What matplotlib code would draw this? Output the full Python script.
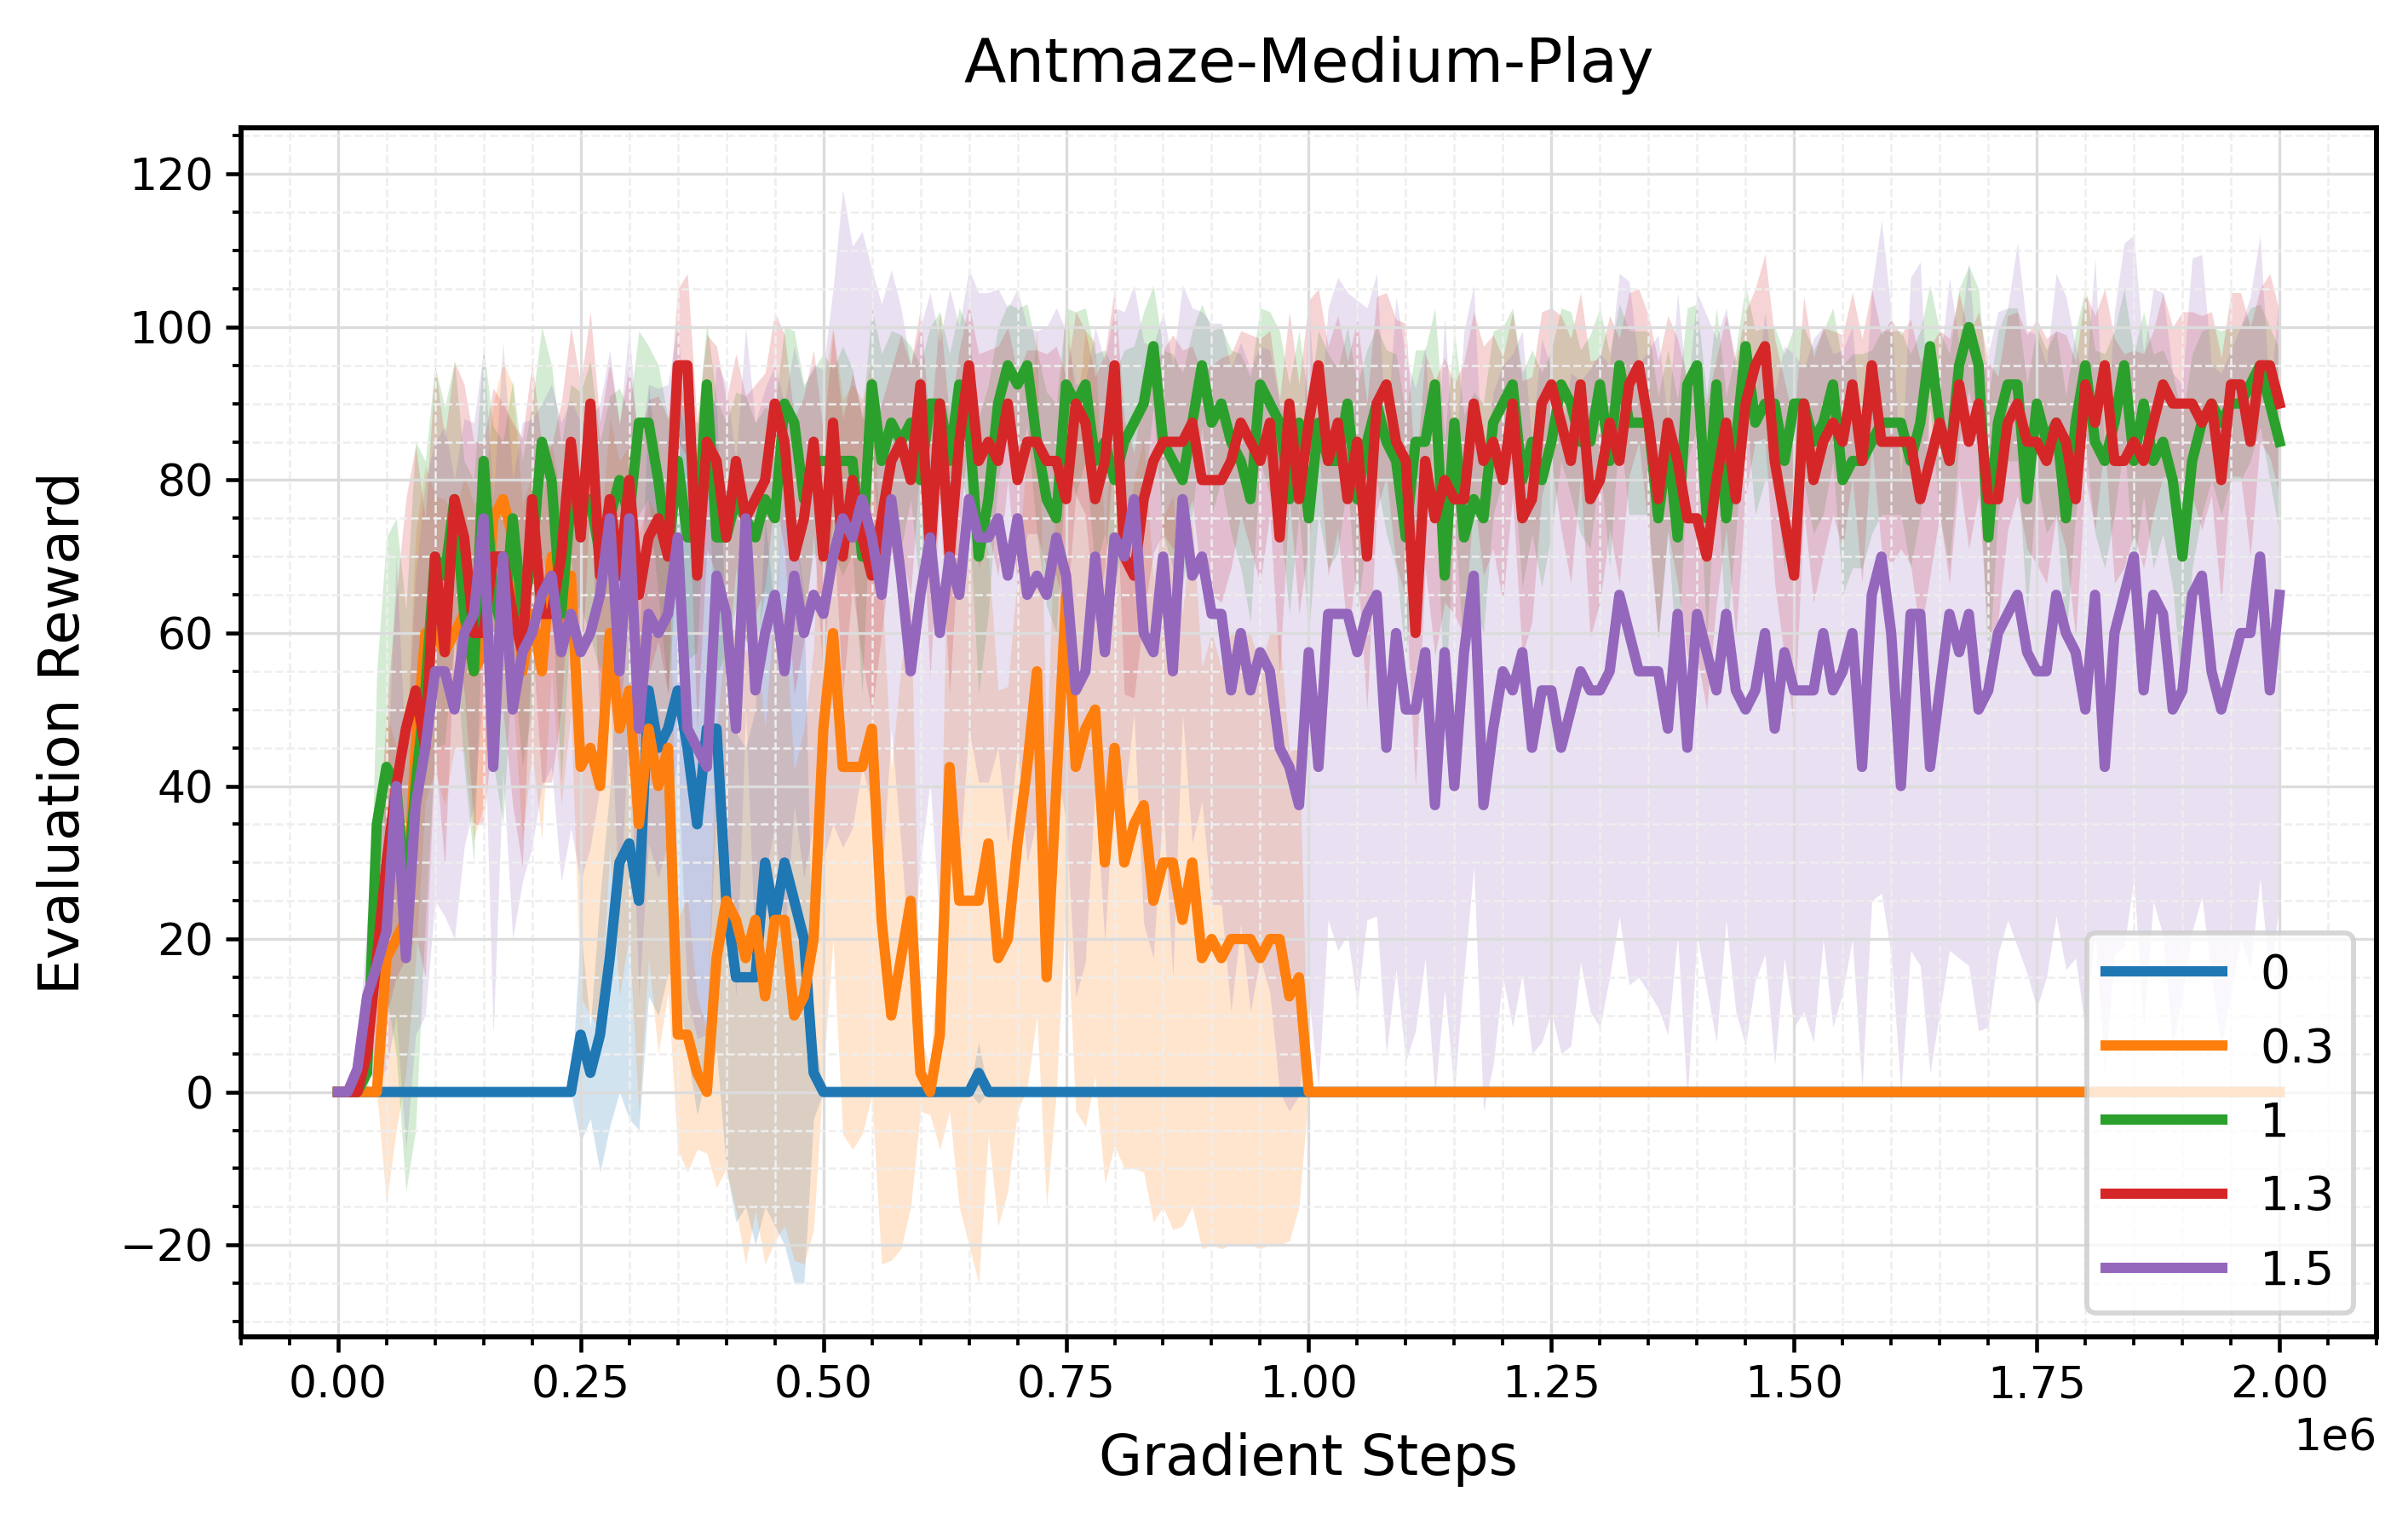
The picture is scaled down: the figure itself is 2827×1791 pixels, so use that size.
import numpy as np
import matplotlib
matplotlib.use("Agg")
import matplotlib.pyplot as plt

# evaluation every 10k gradient steps, 0 .. 2e6
steps = np.arange(0, 2000001, 10000)

labels = ["0", "0.3", "1", "1.3", "1.5"]
colors = ["#1f77b4", "#ff7f0e", "#2ca02c", "#d62728", "#9467bd"]

mean_0 = ([0] * 25 +
          [7.5, 2.5, 7.5, 17.5, 30, 32.5, 25, 52.5, 45, 47.5,
           52.5, 45, 35, 47.5, 47.5, 25, 15, 15, 15, 30,
           22.5, 30, 25, 20, 2.5] +
          [0] * 16 + [2.5] + [0] * 134)
std_0 = ([0] * 25 +
         [14, 6, 18, 22, 30, 36, 30, 40, 35, 32,
          38, 40, 38, 45, 42, 35, 32, 30, 35, 45,
          40, 50, 50, 45, 6] +
         [0] * 16 + [4] + [0] * 134)

mean_03 = ([0, 0, 0, 0, 0, 17.5, 20, 22.5, 45, 60,
            60, 57.5, 60, 62.5, 55, 57.5, 75, 77.5, 72.5, 55,
            62.5, 55, 70, 57.5, 67.5, 42.5, 45, 40, 60, 47.5,
            52.5, 35, 47.5, 40, 45, 7.5, 7.5, 2.5, 0, 17.5,
            25, 22.5, 17.5, 22.5, 12.5, 22.5, 22.5, 10, 12.5, 20,
            47.5, 60, 42.5, 42.5, 42.5, 47.5, 22.5, 10, 17.5, 25,
            2.5, 0, 7.5, 42.5, 25, 25, 25, 32.5, 17.5, 20,
            32.5, 42.5, 55, 15, 40, 65, 42.5, 47.5, 50, 30,
            45, 30, 35, 37.5, 25, 30, 30, 22.5, 30, 17.5,
            20, 17.5, 20, 20, 20, 17.5, 20, 20, 12.5, 15] +
           [0] * 101)
std_03 = ([0, 0, 0, 0, 0, 32, 25, 20, 28, 22,
           18, 20, 15, 18, 22, 20, 15, 18, 20, 22,
           18, 22, 15, 20, 18, 30, 35, 32, 28, 35,
           32, 38, 30, 35, 32, 15, 18, 10, 8, 30,
           35, 38, 40, 38, 35, 42, 40, 32, 35, 38,
           45, 40, 48, 50, 48, 48, 45, 32, 38, 40,
           5, 3, 15, 45, 40, 45, 50, 38, 35, 33,
           35, 42, 45, 30, 40, 40, 45, 52, 48, 42,
           52, 40, 45, 48, 42, 45, 48, 40, 45, 38,
           40, 38, 40, 40, 40, 38, 40, 40, 32, 30] +
          [0] * 101)

mean_1 = [0, 0, 0, 2.5, 35, 42.5, 40, 25, 40, 52.5,
          70, 67.5, 77.5, 62.5, 55, 82.5, 65, 60, 75, 62.5,
          70, 85, 80, 62.5, 77.5, 77.5, 77.5, 70, 75, 80,
          75, 87.5, 87.5, 80, 70, 82.5, 72.5, 72.5, 92.5, 72.5,
          72.5, 77.5, 75, 72.5, 77.5, 75, 90, 87.5, 77.5, 82.5,
          82.5, 82.5, 82.5, 82.5, 70, 92.5, 82.5, 87.5, 85, 87.5,
          80, 90, 90, 82.5, 92.5, 87.5, 70, 77.5, 90, 95,
          92.5, 95, 85, 77.5, 75, 92.5, 90, 92.5, 82.5, 85,
          80, 85, 87.5, 90, 97.5, 85, 82.5, 80, 87.5, 95,
          87.5, 90, 85, 82.5, 77.5, 92.5, 90, 87.5, 77.5, 87.5,
          75, 87.5, 82.5, 82.5, 90, 77.5, 85, 90, 85, 82.5,
          72.5, 85, 85, 92.5, 67.5, 87.5, 72.5, 77.5, 75, 87.5,
          90, 92.5, 80, 85, 80, 85, 92.5, 90, 85, 85,
          92.5, 82.5, 95, 87.5, 87.5, 87.5, 75, 85, 72.5, 92.5,
          95, 75, 92.5, 75, 85, 97.5, 87.5, 90, 90, 82.5,
          90, 90, 85, 87.5, 92.5, 80, 82.5, 82.5, 85, 87.5,
          87.5, 87.5, 82.5, 87.5, 97.5, 87.5, 82.5, 95, 100, 95,
          72.5, 87.5, 92.5, 92.5, 77.5, 90, 85, 87.5, 75, 87.5,
          95, 85, 82.5, 87.5, 95, 82.5, 90, 82.5, 85, 80,
          70, 82.5, 87.5, 90, 87.5, 90, 90, 92.5, 95, 90,
          85]
std_1 = [0, 0, 0, 3, 20, 30, 35, 38, 45, 30,
         25, 22, 18, 20, 25, 15, 22, 25, 18, 20,
         20, 15, 15, 22, 15, 14, 18, 15, 16, 12,
         14, 12, 10, 15, 18, 12, 16, 15, 8, 18,
         15, 14, 16, 15, 12, 14, 10, 12, 15, 12,
         14, 12, 15, 12, 18, 10, 14, 12, 14, 10,
         15, 10, 12, 14, 10, 12, 18, 15, 10, 8,
         10, 8, 12, 14, 15, 10, 12, 10, 14, 12,
         14, 12, 10, 12, 8, 12, 14, 14, 12, 8,
         12, 10, 12, 14, 16, 10, 12, 12, 15, 12,
         15, 12, 14, 12, 10, 15, 12, 10, 12, 14,
         16, 12, 12, 10, 18, 12, 16, 14, 15, 12,
         10, 10, 14, 12, 14, 12, 10, 12, 12, 14,
         10, 14, 8, 12, 12, 12, 16, 12, 18, 10,
         8, 16, 10, 16, 12, 8, 12, 10, 10, 14,
         10, 10, 12, 12, 10, 15, 14, 14, 12, 12,
         12, 12, 14, 12, 8, 12, 14, 10, 8, 10,
         18, 12, 10, 10, 15, 10, 12, 12, 16, 12,
         10, 12, 14, 12, 10, 14, 12, 14, 12, 14,
         18, 14, 12, 10, 12, 10, 10, 10, 8, 10,
         12]

mean_13 = [0, 0, 0, 5, 17.5, 30, 40, 47.5, 52.5, 45,
           70, 57.5, 77.5, 72.5, 60, 60, 70, 70, 62.5, 57.5,
           77.5, 62.5, 62.5, 70, 85, 72.5, 90, 67.5, 77.5, 67.5,
           80, 65, 72.5, 75, 70, 95, 95, 67.5, 85, 82.5,
           72.5, 82.5, 75, 77.5, 80, 90, 85, 70, 75, 85,
           70, 87.5, 70, 80, 72.5, 67.5, 75, 82.5, 85, 80,
           92.5, 70, 90, 70, 85, 95, 82.5, 85, 82.5, 90,
           80, 85, 85, 82.5, 82.5, 77.5, 90, 87.5, 77.5, 82.5,
           95, 70, 67.5, 77.5, 82.5, 85, 85, 85, 87.5, 80,
           80, 80, 82.5, 87.5, 85, 82.5, 87.5, 72.5, 90, 77.5,
           87.5, 95, 82.5, 87.5, 77.5, 85, 70, 90, 92.5, 85,
           82.5, 60, 82.5, 75, 80, 77.5, 77.5, 90, 82.5, 85,
           80, 90, 75, 77.5, 90, 92.5, 87.5, 82.5, 92.5, 77.5,
           80, 87.5, 82.5, 92.5, 95, 87.5, 77.5, 87.5, 82.5, 75,
           75, 70, 80, 87.5, 77.5, 90, 95, 97.5, 82.5, 75,
           67.5, 90, 80, 85, 87.5, 85, 92.5, 82.5, 95, 85,
           85, 85, 85, 77.5, 82.5, 87.5, 82.5, 92.5, 85, 90,
           77.5, 77.5, 87.5, 90, 85, 85, 82.5, 87.5, 85, 77.5,
           92.5, 87.5, 95, 82.5, 82.5, 85, 82.5, 87.5, 92.5, 90,
           90, 90, 87.5, 90, 80, 92.5, 92.5, 85, 95, 95,
           90]
std_13 = [0, 0, 0, 3, 12, 20, 25, 30, 32, 30,
          25, 28, 18, 20, 25, 25, 22, 20, 25, 28,
          18, 22, 22, 20, 15, 20, 12, 20, 18, 20,
          15, 20, 18, 16, 18, 10, 12, 20, 14, 15,
          18, 14, 16, 15, 14, 12, 14, 18, 16, 12,
          16, 12, 18, 14, 16, 18, 15, 12, 14, 15,
          10, 16, 12, 18, 12, 8, 14, 12, 15, 10,
          14, 12, 12, 14, 15, 16, 12, 12, 16, 14,
          10, 18, 16, 15, 12, 12, 14, 12, 10, 14,
          15, 16, 14, 12, 14, 16, 12, 18, 12, 15,
          16, 10, 15, 14, 18, 16, 20, 14, 12, 16,
          18, 20, 14, 18, 16, 15, 18, 12, 15, 14,
          16, 12, 18, 16, 12, 10, 14, 16, 12, 18,
          16, 14, 16, 12, 10, 14, 18, 14, 16, 18,
          18, 20, 16, 14, 18, 12, 10, 12, 16, 18,
          20, 14, 16, 15, 12, 14, 12, 16, 10, 14,
          16, 14, 16, 18, 15, 12, 16, 12, 14, 12,
          18, 16, 14, 12, 14, 16, 16, 12, 14, 18,
          12, 14, 10, 16, 14, 12, 14, 12, 12, 10,
          12, 12, 14, 12, 16, 12, 12, 15, 10, 12,
          12]

mean_15 = [0, 0, 3, 12.5, 16.5, 21, 40, 17.5, 37.5, 45,
           55, 55, 50, 60, 62.5, 75, 42.5, 70, 50, 57.5,
           60, 65, 67.5, 57.5, 62.5, 57.5, 60, 65, 75, 55,
           75, 47.5, 62.5, 60, 62.5, 72.5, 47.5, 45, 42.5, 67.5,
           62.5, 47.5, 75, 52.5, 60, 65, 55, 67.5, 60, 65,
           62.5, 70, 75, 72.5, 77.5, 72.5, 65, 77.5, 67.5, 55,
           65, 72.5, 60, 70, 65, 77.5, 72.5, 72.5, 75, 67.5,
           75, 65, 67.5, 65, 72.5, 67.5, 52.5, 55, 70, 57.5,
           72.5, 70, 77.5, 60, 57.5, 70, 55, 77.5, 67.5, 70,
           62.5, 62.5, 52.5, 60, 52.5, 57.5, 55, 45, 42.5, 37.5,
           57.5, 42.5, 62.5, 62.5, 62.5, 57.5, 62.5, 65, 45, 60,
           50, 50, 57.5, 37.5, 57.5, 40, 57.5, 67.5, 37.5, 47.5,
           55, 52.5, 57.5, 45, 52.5, 52.5, 45, 50, 55, 52.5,
           52.5, 55, 65, 60, 55, 55, 55, 47.5, 62.5, 45,
           62.5, 57.5, 52.5, 62.5, 52.5, 50, 52.5, 60, 47.5, 57.5,
           52.5, 52.5, 52.5, 60, 52.5, 55, 60, 42.5, 65, 70,
           60, 40, 62.5, 62.5, 42.5, 52.5, 62.5, 57.5, 62.5, 50,
           52.5, 60, 62.5, 65, 57.5, 55, 55, 65, 60, 57.5,
           50, 65, 42.5, 60, 65, 70, 52.5, 65, 62.5, 50,
           52.5, 65, 67.5, 55, 50, 55, 60, 60, 70, 52.5,
           65]
std_15 = [0, 0, 2, 10, 15, 18, 30, 25, 30, 35,
          30, 32, 30, 28, 25, 22, 35, 28, 30, 30,
          28, 25, 25, 30, 28, 30, 28, 25, 22, 32,
          25, 35, 30, 32, 30, 28, 35, 38, 35, 28,
          30, 35, 25, 35, 32, 30, 35, 30, 32, 30,
          32, 35, 43, 38, 35, 35, 38, 30, 35, 40,
          35, 32, 38, 35, 35, 30, 32, 32, 30, 35,
          30, 35, 32, 35, 30, 32, 40, 38, 30, 38,
          30, 32, 28, 38, 40, 32, 40, 28, 35, 32,
          38, 38, 42, 38, 42, 40, 42, 45, 45, 38,
          45, 42, 40, 44, 42, 46, 40, 42, 40, 44,
          46, 42, 40, 38, 44, 40, 42, 38, 40, 44,
          40, 44, 42, 40, 46, 42, 40, 44, 38, 42,
          44, 40, 42, 46, 40, 42, 44, 40, 42, 46,
          42, 44, 46, 40, 42, 44, 38, 42, 44, 40,
          44, 42, 46, 40, 44, 42, 40, 42, 40, 44,
          42, 40, 44, 46, 40, 42, 44, 40, 46, 42,
          44, 42, 40, 46, 42, 44, 40, 42, 44, 40,
          42, 44, 40, 42, 46, 42, 44, 40, 42, 44,
          40, 44, 42, 40, 44, 42, 40, 44, 42, 38,
          40]

means = [mean_0, mean_03, mean_1, mean_13, mean_15]
stds = [std_0, std_03, std_1, std_13, std_15]

fig, ax = plt.subplots(figsize=(2828 / 300, 1791 / 300), dpi=300)
fig.subplots_adjust(left=0.100, right=0.9866, top=0.916, bottom=0.124)

for m, s, c in zip(means, stds, colors):
    m = np.array(m, dtype=float)
    s = np.array(s, dtype=float)
    ax.fill_between(steps, m - s, m + s, color=c, alpha=0.2, lw=0)
for m, c, lab in zip(means, colors, labels):
    ax.plot(steps, m, color=c, lw=2.9, label=lab)

ax.set_xlim(-0.1e6, 2.1e6)
ax.set_ylim(-32, 126)
ax.set_xticks(np.arange(0, 2.01e6, 0.25e6))
ax.set_xticks(np.arange(-0.1e6, 2.11e6, 0.05e6), minor=True)
ax.set_yticks(np.arange(-20, 121, 20))
ax.set_yticks(np.arange(-30, 126, 5), minor=True)

ax.grid(which="major", color="#dcdcdc", lw=0.8)
ax.grid(which="minor", color="#eeeeee", lw=0.6, ls="--")

for sp in ax.spines.values():
    sp.set_linewidth(1.4)
ax.tick_params(which="major", direction="out", length=4.3, width=1.1, labelsize=12.5)
ax.tick_params(which="minor", direction="out", length=2.5, width=0.9)
ax.xaxis.get_offset_text().set_fontsize(12.5)

ax.set_xlabel("Gradient Steps", fontsize=15.8, labelpad=7)
ax.set_ylabel("Evaluation Reward", fontsize=15.8, labelpad=8)
ax.set_title("Antmaze-Medium-Play", fontsize=17.3, pad=13)

leg = ax.legend(loc="lower right", fontsize=13.2, handlelength=2.5,
                labelspacing=0.6, fancybox=True)
leg.get_frame().set_edgecolor("#cccccc")
leg.get_frame().set_linewidth(1.4)

plt.savefig("out.png", dpi=300)
